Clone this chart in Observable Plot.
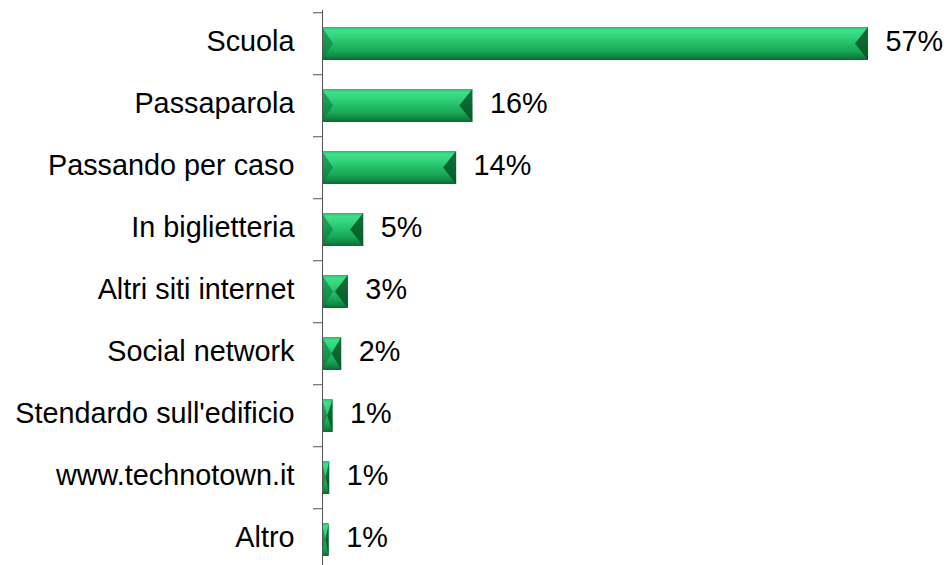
<!DOCTYPE html>
<html><head><meta charset="utf-8">
<script src="https://cdn.jsdelivr.net/npm/d3@7"></script>
<script src="https://cdn.jsdelivr.net/npm/@observablehq/plot@0.6"></script>
<style>body{margin:0;background:#fff}</style>
</head><body><div id="chart"></div>
<script>
const categories = ["Scuola", "Passaparola", "Passando per caso", "In biglietteria", "Altri siti internet", "Social network", "Stendardo sull'edificio", "www.technotown.it", "Altro"];
const values = [57, 15.7, 14.0, 4.3, 2.7, 2.0, 1.1, 0.75, 0.7];
const labels = ["57%", "16%", "14%", "5%", "3%", "2%", "1%", "1%", "1%"];
const data = categories.map((c, i) => ({category: c, value: values[i], label: labels[i]}));

const FS = 28.8;
const plot = Plot.plot({
  width: 947, height: 565,
  marginLeft: 322, marginRight: 79, marginTop: 10, marginBottom: 0,
  style: {fontFamily: "'Liberation Sans', Arial, sans-serif", fontSize: FS + "px", background: "#fff", color: "#000"},
  x: {domain: [0, 57], axis: null},
  y: {domain: categories, range: [10, 572.5], paddingInner: 0.46, paddingOuter: 0.23, axis: null},
  marks: [
    Plot.barX(data, {x: "value", y: "category", fill: "#1fb860"}),
    Plot.text(data, {x: "value", y: "category", text: "label", textAnchor: "start", dx: 17, dy: -2, fontSize: FS, fill: "#000"}),
    Plot.axisY({tickSize: 0, tickPadding: 28, dy: -2, fontSize: FS, color: "#000", label: null}),
    Plot.axisY({tickSize: 9, tickFormat: () => "", dy: -31.25, color: "#555", label: null}),
    Plot.ruleX([0], {stroke: "#555"})
  ]
});

const svg = d3.select(plot);
const defs = svg.insert("defs", ":first-child");
const g = defs.append("linearGradient").attr("id", "barGrad").attr("x1", 0).attr("y1", 0).attr("x2", 0).attr("y2", 1);
[[0, "#27bd66"], [0.1, "#3fe08b"], [0.28, "#33d47c"], [0.5, "#22bf66"], [0.72, "#19a857"], [0.88, "#108a44"], [1, "#0a6a33"]]
  .forEach(([o, c]) => g.append("stop").attr("offset", o).attr("stop-color", c));

svg.selectAll('g[aria-label="bar"] rect').each(function() {
  const r = d3.select(this);
  r.attr("fill", "url(#barGrad)");
  const x = +r.attr("x"), y = +r.attr("y"), w = +r.attr("width"), h = +r.attr("height");
  const parent = d3.select(this.parentNode);
  const dl = Math.min(11, w / 2), dr = Math.min(13, w / 2);
  const ym = y + h / 2;
  parent.append("polygon")
    .attr("points", `${x},${y} ${x + dl},${ym} ${x},${y + h}`)
    .attr("fill", "#0b7a38").attr("fill-opacity", 0.6);
  parent.append("polygon")
    .attr("points", `${x + w},${y} ${x + w - dr},${ym} ${x + w},${y + h}`)
    .attr("fill", "#064f23").attr("fill-opacity", 0.8);
});

document.getElementById("chart").appendChild(plot);
</script>
</body></html>
